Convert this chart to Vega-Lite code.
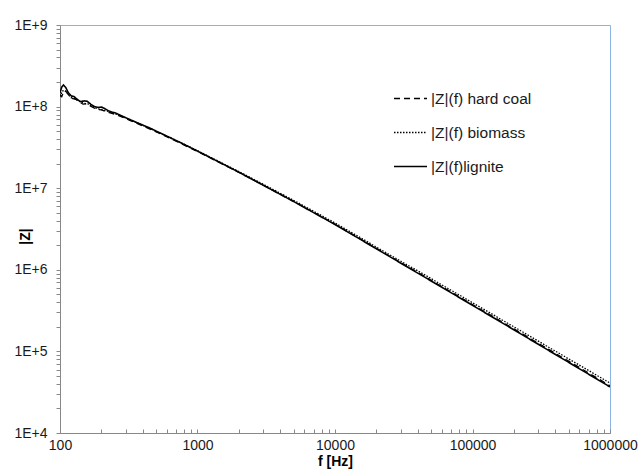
{
  "$schema": "https://vega.github.io/schema/vega-lite/v6.json",
  "width": 550,
  "height": 408,
  "autosize": {"type": "none"},
  "padding": {"left": 60, "top": 25, "right": 31, "bottom": 38},
  "background": "white",
  "config": {
    "view": {"stroke": "#8db3e2", "strokeWidth": 1},
    "font": "Liberation Sans"
  },
  "datasets": {
    "lignite": [
      {"f": 100, "z": 1.479e8}, {"f": 103, "z": 1.738e8}, {"f": 106, "z": 1.841e8}, {"f": 110, "z": 1.718e8},
      {"f": 115, "z": 1.479e8}, {"f": 121, "z": 1.349e8}, {"f": 126, "z": 1.334e8}, {"f": 133, "z": 1.230e8},
      {"f": 141, "z": 1.148e8}, {"f": 150, "z": 1.175e8}, {"f": 158, "z": 1.161e8}, {"f": 167, "z": 1.072e8},
      {"f": 178, "z": 1.0e8}, {"f": 190, "z": 9.77e7}, {"f": 200, "z": 9.89e7}, {"f": 212, "z": 9.44e7},
      {"f": 225, "z": 8.91e7}, {"f": 240, "z": 8.51e7}, {"f": 251, "z": 8.41e7}, {"f": 270, "z": 7.94e7},
      {"f": 290, "z": 7.50e7}, {"f": 316, "z": 7.05e7}, {"f": 350, "z": 6.53e7}, {"f": 398, "z": 5.96e7},
      {"f": 450, "z": 5.46e7}, {"f": 501, "z": 5.00e7}, {"f": 631, "z": 4.17e7}, {"f": 794, "z": 3.46e7},
      {"f": 1000, "z": 2.85e7}, {"f": 2000, "z": 1.57e7}, {"f": 3000, "z": 1.09e7}, {"f": 5000, "z": 6.87e6},
      {"f": 10000, "z": 3.59e6}, {"f": 20000, "z": 1.81e6}, {"f": 50000, "z": 7.3e5}, {"f": 100000, "z": 3.67e5},
      {"f": 200000, "z": 1.84e5}, {"f": 500000, "z": 7.35e4}, {"f": 1000000, "z": 3.67e4}
    ],
    "hardcoal": [
      {"f": 100, "z": 1.41e8}, {"f": 103, "z": 1.32e8}, {"f": 106, "z": 1.51e8}, {"f": 110, "z": 1.55e8},
      {"f": 116, "z": 1.38e8}, {"f": 122, "z": 1.26e8}, {"f": 130, "z": 1.23e8}, {"f": 138, "z": 1.15e8},
      {"f": 147, "z": 1.07e8}, {"f": 156, "z": 1.08e8}, {"f": 166, "z": 1.02e8}, {"f": 178, "z": 9.55e7},
      {"f": 190, "z": 9.23e7}, {"f": 200, "z": 9.12e7}, {"f": 225, "z": 8.51e7}, {"f": 251, "z": 8.04e7},
      {"f": 290, "z": 7.33e7}, {"f": 316, "z": 6.89e7}, {"f": 398, "z": 5.82e7}, {"f": 501, "z": 4.90e7},
      {"f": 631, "z": 4.09e7}, {"f": 794, "z": 3.40e7}, {"f": 1000, "z": 2.82e7}, {"f": 2000, "z": 1.56e7},
      {"f": 3000, "z": 1.09e7}, {"f": 5000, "z": 6.9e6}, {"f": 10000, "z": 3.62e6}, {"f": 20000, "z": 1.83e6},
      {"f": 50000, "z": 7.45e5}, {"f": 100000, "z": 3.75e5}, {"f": 200000, "z": 1.89e5}, {"f": 500000, "z": 7.6e4},
      {"f": 1000000, "z": 3.8e4}
    ],
    "biomass": [
      {"f": 100, "z": 1.32e8}, {"f": 104, "z": 1.55e8}, {"f": 108, "z": 1.58e8}, {"f": 113, "z": 1.45e8},
      {"f": 120, "z": 1.29e8}, {"f": 128, "z": 1.26e8}, {"f": 137, "z": 1.17e8}, {"f": 148, "z": 1.10e8},
      {"f": 160, "z": 1.08e8}, {"f": 172, "z": 1.0e8}, {"f": 186, "z": 9.44e7}, {"f": 200, "z": 9.23e7},
      {"f": 225, "z": 8.71e7}, {"f": 251, "z": 8.17e7}, {"f": 290, "z": 7.45e7}, {"f": 316, "z": 7.0e7},
      {"f": 398, "z": 5.92e7}, {"f": 501, "z": 4.99e7}, {"f": 631, "z": 4.17e7}, {"f": 794, "z": 3.48e7},
      {"f": 1000, "z": 2.88e7}, {"f": 2000, "z": 1.6e7}, {"f": 3000, "z": 1.12e7}, {"f": 5000, "z": 7.1e6},
      {"f": 10000, "z": 3.75e6}, {"f": 20000, "z": 1.9e6}, {"f": 50000, "z": 7.8e5}, {"f": 100000, "z": 3.95e5},
      {"f": 200000, "z": 2.0e5}, {"f": 500000, "z": 8.1e4}, {"f": 1000000, "z": 4.1e4}
    ]
  },
  "layer": [
    {
      "data": {"name": "hardcoal"},
      "transform": [{"calculate": "'|Z|(f) hard coal'", "as": "s"}],
      "mark": {"type": "line", "color": "black", "strokeWidth": 1.3, "clip": true},
      "encoding": {
        "x": {"field": "f", "type": "quantitative"},
        "y": {"field": "z", "type": "quantitative"},
        "strokeDash": {"field": "s", "type": "nominal"}
      }
    },
    {
      "data": {"name": "biomass"},
      "transform": [{"calculate": "'|Z|(f) biomass'", "as": "s"}],
      "mark": {"type": "line", "color": "black", "strokeWidth": 1.3, "clip": true},
      "encoding": {
        "x": {"field": "f", "type": "quantitative"},
        "y": {"field": "z", "type": "quantitative"},
        "strokeDash": {"field": "s", "type": "nominal"}
      }
    },
    {
      "data": {"name": "lignite"},
      "transform": [{"calculate": "'|Z|(f)lignite'", "as": "s"}],
      "mark": {"type": "line", "color": "black", "strokeWidth": 1.6, "clip": true},
      "encoding": {
        "x": {
          "field": "f", "type": "quantitative",
          "scale": {"type": "log", "domain": [100, 1000000], "nice": false},
          "axis": {
            "title": "f [Hz]", "titleFontWeight": "bold", "titleFontSize": 14, "titleColor": "#000", "titlePadding": 2,
            "values": [100,200,300,400,500,600,700,800,900,1000,2000,3000,4000,5000,6000,7000,8000,9000,10000,20000,30000,40000,50000,60000,70000,80000,90000,100000,200000,300000,400000,500000,600000,700000,800000,900000,1000000],
            "labelExpr": "abs(log(datum.value)/LN10 - round(log(datum.value)/LN10)) < 0.000001 ? format(datum.value, 'd') : ''",
            "labelOverlap": false, "labelBound": false, "labelFlush": false,
            "labelFontSize": 14, "labelColor": "#1a1a1a", "labelPadding": 9,
            "tickSize": -4, "tickColor": "#888", "domainColor": "#888", "grid": false
          }
        },
        "y": {
          "field": "z", "type": "quantitative",
          "scale": {"type": "log", "domain": [10000, 1000000000], "nice": false},
          "axis": {
            "title": "|Z|", "titleFontWeight": "bold", "titleFontSize": 14, "titleColor": "#000", "titleX": -28, "titleY": 211,
            "values": [10000,20000,30000,40000,50000,60000,70000,80000,90000,100000,200000,300000,400000,500000,600000,700000,800000,900000,1000000,2000000,3000000,4000000,5000000,6000000,7000000,8000000,9000000,10000000,20000000,30000000,40000000,50000000,60000000,70000000,80000000,90000000,100000000,200000000,300000000,400000000,500000000,600000000,700000000,800000000,900000000,1000000000],
            "labelExpr": "abs(log(datum.value)/LN10 - round(log(datum.value)/LN10)) < 0.000001 ? '1E+' + round(log(datum.value)/LN10) : ''",
            "labelOverlap": false, "labelBound": false, "labelFlush": false,
            "labelFontSize": 14, "labelColor": "#1a1a1a", "labelPadding": 9,
            "tickSize": 4, "tickColor": "#888", "domainColor": "#888", "grid": false
          }
        },
        "strokeDash": {
          "field": "s", "type": "nominal",
          "scale": {"domain": ["|Z|(f) hard coal", "|Z|(f) biomass", "|Z|(f)lignite"], "range": [[6, 4], [1.5, 1.5], [1, 0]]},
          "legend": {
            "title": null, "orient": "none", "legendX": 333, "legendY": 56,
            "symbolType": "stroke", "symbolSize": 1089, "symbolStrokeColor": "black", "symbolStrokeWidth": 1.3,
            "labelFontSize": 15.5, "labelColor": "#1a1a1a", "labelOffset": 3, "rowPadding": 8
          }
        }
      }
    }
  ]
}
